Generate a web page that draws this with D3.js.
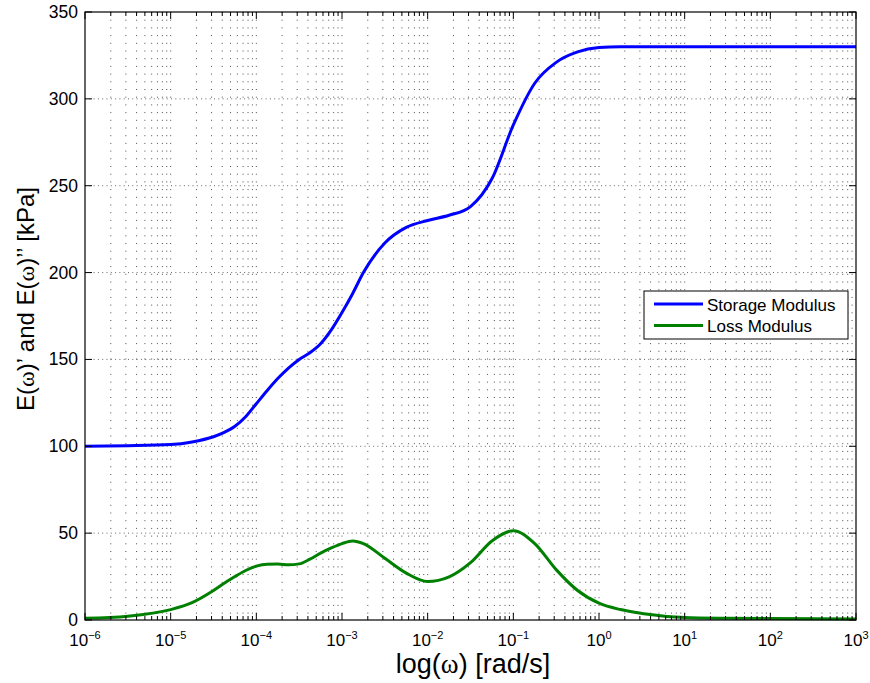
<!DOCTYPE html>
<html>
<head>
<meta charset="utf-8">
<script src="https://cdn.jsdelivr.net/npm/d3@7"></script>
<style>
  body { margin: 0; background: #fff; }
  text { font-family: "Liberation Sans", Arial, Helvetica, sans-serif; fill: #000; }
</style>
</head>
<body>
<div id="my_dataviz"></div>
<script>
var logOmega = [-6, -5.5, -5, -4.75, -4.5, -4.375, -4.25, -4.125, -4, -3.875, -3.75, -3.625, -3.5, -3.375, -3.25, -3.125, -3, -2.875, -2.75, -2.5, -2.25, -2, -1.75, -1.5, -1.25, -1, -0.75, -0.5, -0.25, 0, 0.25, 0.5, 1, 1.5, 2, 3];
var storageModulus = [100, 100.3, 101, 102.5, 105.5, 108, 111.5, 117, 124.5, 132, 139, 145, 150, 153.8, 159, 167, 177, 188, 200, 217, 226, 230, 233, 238, 254, 285, 309, 321, 327, 329.5, 330, 330, 330, 330, 330, 330];
var lossModulus = [1, 2.2, 6, 10, 17, 21.1, 25, 28.5, 31, 32.1, 32.2, 31.8, 32.3, 35, 38.5, 41.5, 44, 45.5, 44, 35.5, 27, 22.1, 24.8, 33, 45.5, 51.4, 44, 29, 17, 9.7, 6, 3.8, 1.5, 1.0, 0.8, 0.6];
var xTickExp = [-6, -5, -4, -3, -2, -1, 0, 1, 2, 3];
var yTicks = [0, 50, 100, 150, 200, 250, 300, 350];
var seriesNames = ["Storage Modulus", "Loss Modulus"];
var seriesColors = ["#0000ff", "#008000"];

var margin = {top: 12, right: 14, bottom: 63, left: 85},
    width = 870 - margin.left - margin.right,
    height = 683 - margin.top - margin.bottom;

var svg = d3.select("#my_dataviz")
  .append("svg")
    .attr("width", 870)
    .attr("height", 683)
  .append("g")
    .attr("transform", "translate(" + margin.left + "," + margin.top + ")");

var x = d3.scaleLog()
  .domain([1e-6, 1e3])
  .range([0, width]);

var y = d3.scaleLinear()
  .domain([0, 350])
  .range([height, 0]);

// minor decade positions 2..9
var minor = [];
xTickExp.slice(0, -1).forEach(function(e) {
  for (var k = 2; k <= 9; k++) minor.push(k * Math.pow(10, e));
});
var majors = xTickExp.map(function(e) { return Math.pow(10, e); });

// grid
var grid = svg.append("g").attr("class", "grid");
grid.selectAll(".vgrid")
  .data(minor.concat(majors.slice(1, -1)))
  .enter().append("line")
    .attr("x1", d => x(d)).attr("x2", d => x(d))
    .attr("y1", 0).attr("y2", height)
    .attr("stroke", "#000")
    .attr("stroke-opacity", 0.7)
    .attr("stroke-width", 1)
    .attr("stroke-dasharray", "1,6.7");
grid.selectAll(".hgrid")
  .data(yTicks.slice(1, -1))
  .enter().append("line")
    .attr("x1", 0).attr("x2", width)
    .attr("y1", d => y(d)).attr("y2", d => y(d))
    .attr("stroke", "#000")
    .attr("stroke-opacity", 0.6)
    .attr("stroke-width", 1)
    .attr("stroke-dasharray", "1,3.3");

// lines
var data = logOmega.map(function(e, i) {
  return {w: Math.pow(10, e), s: storageModulus[i], l: lossModulus[i]};
});
var lineS = d3.line().x(d => x(d.w)).y(d => y(d.s)).curve(d3.curveMonotoneX);
var lineL = d3.line().x(d => x(d.w)).y(d => y(d.l)).curve(d3.curveMonotoneX);

svg.append("path").datum(data)
  .attr("fill", "none").attr("stroke", seriesColors[0]).attr("stroke-width", 3)
  .attr("d", lineS);
svg.append("path").datum(data)
  .attr("fill", "none").attr("stroke", seriesColors[1]).attr("stroke-width", 3)
  .attr("d", lineL);

// box
svg.append("rect")
  .attr("x", 0).attr("y", 0).attr("width", width).attr("height", height)
  .attr("fill", "none").attr("stroke", "#000").attr("stroke-width", 1.2);

// ticks (inward, both sides)
var ticks = svg.append("g").attr("stroke", "#000").attr("stroke-width", 1);
majors.forEach(function(d) {
  ticks.append("line").attr("x1", x(d)).attr("x2", x(d)).attr("y1", height).attr("y2", height - 7);
  ticks.append("line").attr("x1", x(d)).attr("x2", x(d)).attr("y1", 0).attr("y2", 7);
});
minor.forEach(function(d) {
  ticks.append("line").attr("x1", x(d)).attr("x2", x(d)).attr("y1", height).attr("y2", height - 4);
  ticks.append("line").attr("x1", x(d)).attr("x2", x(d)).attr("y1", 0).attr("y2", 4);
});
yTicks.forEach(function(d) {
  ticks.append("line").attr("x1", 0).attr("x2", 7).attr("y1", y(d)).attr("y2", y(d));
  ticks.append("line").attr("x1", width).attr("x2", width - 7).attr("y1", y(d)).attr("y2", y(d));
});

// y tick labels
svg.selectAll(".ylab")
  .data(yTicks)
  .enter().append("text")
    .attr("x", -7)
    .attr("y", d => y(d) + 6)
    .attr("text-anchor", "end")
    .style("font-size", "17.5px")
    .text(d => d);

// x tick labels 10^e
xTickExp.forEach(function(e) {
  var t = svg.append("text")
    .attr("x", x(Math.pow(10, e)))
    .attr("y", height + 26)
    .attr("text-anchor", "middle")
    .style("font-size", "17px");
  t.append("tspan").text("10");
  t.append("tspan")
    .attr("dy", -7)
    .style("font-size", "11px")
    .text(e < 0 ? "\u2212" + (-e) : String(e));
});

// axis titles
var xt = svg.append("text")
  .attr("x", 473 - margin.left)
  .attr("y", height + 53)
  .attr("text-anchor", "middle")
  .style("font-size", "27px");
xt.append("tspan").text("log(");
xt.append("tspan").style("font-family", "'Liberation Serif', serif").text("\u03c9");
xt.append("tspan").text(") [rad/s]");

var yt = svg.append("text")
  .attr("transform", "translate(" + (-51) + "," + (299 - margin.top) + ") rotate(-90)")
  .attr("text-anchor", "middle")
  .style("font-size", "24px");
yt.append("tspan").text("E(");
yt.append("tspan").style("font-family", "'Liberation Serif', serif").text("\u03c9");
yt.append("tspan").text(")\u2019 and E(");
yt.append("tspan").style("font-family", "'Liberation Serif', serif").text("\u03c9");
yt.append("tspan").text(")\u2019\u2019 [kPa]");

// legend
var legend = svg.append("g")
  .attr("transform", "translate(" + (644 - margin.left) + "," + (291 - margin.top) + ")");
legend.append("rect")
  .attr("width", 204).attr("height", 48)
  .attr("fill", "#fff").attr("stroke", "#000").attr("stroke-width", 1);
seriesNames.forEach(function(name, i) {
  legend.append("line")
    .attr("x1", 10).attr("x2", 59)
    .attr("y1", 13 + i * 21.5).attr("y2", 13 + i * 21.5)
    .attr("stroke", seriesColors[i]).attr("stroke-width", 3);
  legend.append("text")
    .attr("x", 63).attr("y", 19.5 + i * 21.5)
    .style("font-size", "17px")
    .text(name);
});
</script>
</body>
</html>
